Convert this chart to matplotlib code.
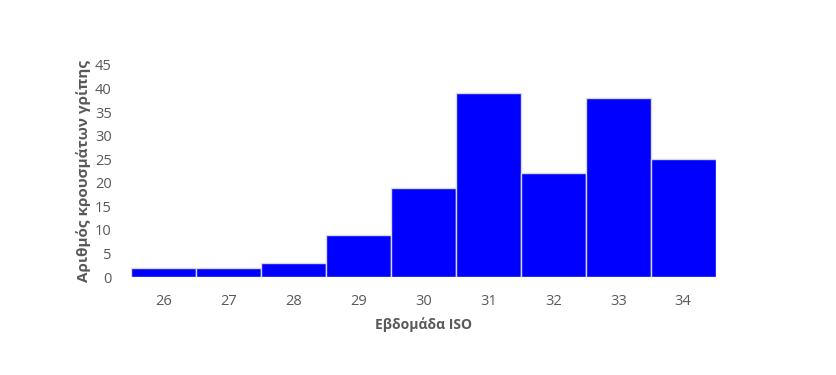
import matplotlib.pyplot as plt

weeks = ["26", "27", "28", "29", "30", "31", "32", "33", "34"]
cases = [2, 2, 3, 9, 19, 39, 22, 38, 25]
yticks = [0, 5, 10, 15, 20, 25, 30, 35, 40, 45]

plt.rcParams['font.family'] = ['Open Sans', 'DejaVu Sans']

fig = plt.figure(figsize=(8.36, 3.75), dpi=100)
ax = fig.add_axes([0.157, 0.261, 0.699, 0.566])

x = range(len(weeks))
ax.bar(x, cases, width=1.0, color='#0000ff', edgecolor='#d9d9d9', linewidth=1)

ax.set_xlim(-0.5, len(weeks) - 0.5)
ax.set_ylim(0, 45)
ax.set_xticks(list(x))
ax.set_xticklabels(weeks)
ax.set_yticks(yticks)

for s in ax.spines.values():
    s.set_visible(False)
ax.tick_params(length=0, labelsize=10.5, colors='#595959')
ax.tick_params(axis='x', pad=12)
ax.tick_params(axis='y', pad=14)

ax.set_xlabel("Εβδομάδα ISO", fontsize=10, fontweight='bold', color='#595959', labelpad=6)
ax.set_ylabel("Αριθμός κρουσμάτων γρίπης", fontsize=11, fontweight='bold', color='#595959', labelpad=3)

fig.savefig("out.png", dpi=100)
